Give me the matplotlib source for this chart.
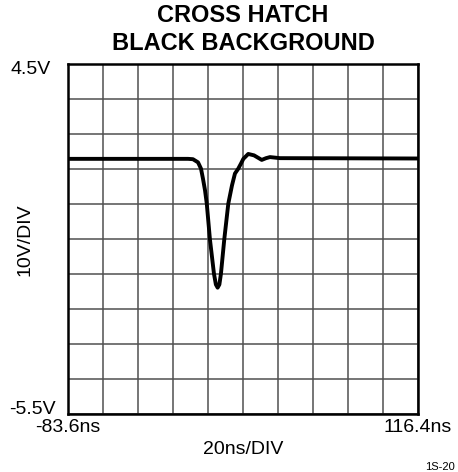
import matplotlib
matplotlib.use('Agg')
import matplotlib.pyplot as plt
import numpy as np

plt.rcParams['font.family'] = ['Liberation Sans', 'DejaVu Sans']

# Waveform (time in ns, amplitude in V)
time_ns = [-83.6, -36.7, -15.0, -12.2, -9.3, -7.6, -6.5, -5.3, -4.3, -2.5,
           -0.2, 0.9, 1.9, 2.9, 3.8, 5.7, 8.0, 10.1, 11.8, 13.7, 15.3,
           16.6, 19.4, 22.7, 27.1, 29.6, 31.8, 37.5, 116.4]
volts = [1.79, 1.79, 1.79, 1.78, 1.69, 1.51, 1.23, 0.89, 0.51, -0.51,
         -1.49, -1.80, -1.89, -1.80, -1.49, -0.51, 0.51, 1.03, 1.37, 1.51, 1.66,
         1.79, 1.93, 1.89, 1.76, 1.81, 1.84, 1.81, 1.80]

x_min, x_max = -83.6, 116.4
y_min, y_max = -5.5, 4.5
n_div = 10

W, H = 458, 472
fig = plt.figure(figsize=(W / 100, H / 100), dpi=100)
ax = fig.add_axes([68 / W, 1 - 414 / H, 350 / W, 350 / H])

ax.set_xlim(x_min, x_max)
ax.set_ylim(y_min, y_max)
ax.set_xticks(np.linspace(x_min, x_max, n_div + 1))
ax.set_yticks(np.linspace(y_min, y_max, n_div + 1))
ax.grid(True, color='#505050', linewidth=1.1)
ax.tick_params(length=0, labelleft=False, labelbottom=False)
for sp in ax.spines.values():
    sp.set_linewidth(1.8)
    sp.set_color('black')

ax.plot(time_ns, volts, color='black', linewidth=2.8, solid_joinstyle='round',
        solid_capstyle='round', zorder=3)


def ftext(px, py, s, **kw):
    fig.text(px / W, 1 - py / H, s, **kw)


ftext(243, 16, 'CROSS HATCH', ha='center', va='center', fontsize=17, fontweight='bold')
ftext(243, 43, 'BLACK BACKGROUND', ha='center', va='center', fontsize=17, fontweight='bold')
ftext(51, 70, '4.5V', ha='right', va='center', fontsize=14)
ftext(56, 409, '-5.5V', ha='right', va='center', fontsize=14)
ftext(35, 428, '-83.6ns', ha='left', va='center', fontsize=14)
ftext(452, 428, '116.4ns', ha='right', va='center', fontsize=14)
ftext(243, 449, '20ns/DIV', ha='center', va='center', fontsize=14)
ftext(25, 240, '10V/DIV', ha='center', va='center', fontsize=14, rotation=90)
ftext(455, 467, '1S-20', ha='right', va='center', fontsize=8)

fig.savefig('out.png', dpi=100)
